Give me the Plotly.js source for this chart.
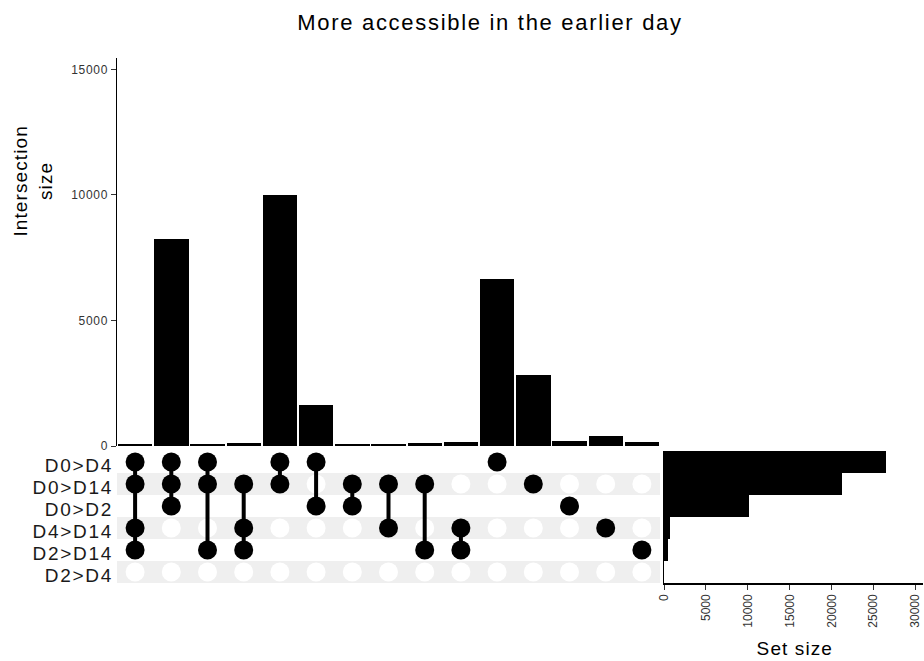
<!DOCTYPE html>
<html>
<head>
<meta charset="utf-8">
<script src="https://cdn.plot.ly/plotly-3.0.1.min.js"></script>
<style>
html,body{margin:0;padding:0;background:#fff;}
#chart{width:924px;height:661px;}
#chart .gtitle{letter-spacing:1.7px;}
#chart .ytick text,#chart .xtick text{letter-spacing:0.7px;}
#chart .y2tick text{letter-spacing:1.7px;}
#chart .annotation-text{letter-spacing:1.1px;}
</style>
</head>
<body>
<div id="chart"></div>
<script>
// ---- data ----
const setNames = ["D0>D4", "D0>D14", "D0>D2", "D4>D14", "D2>D14", "D2>D4"];
const setSizes = [26500, 21250, 10100, 690, 450, 10];
const intersectionSizes = [60, 8250, 80, 100, 10000, 1620, 80, 90, 110, 140, 6650, 2820, 200, 400, 150];
// membership of each intersection column (indices into setNames)
const memberships = [
  [0, 1, 3, 4],
  [0, 1, 2],
  [0, 1, 4],
  [1, 3, 4],
  [0, 1],
  [0, 2],
  [1, 2],
  [1, 3],
  [1, 4],
  [3, 4],
  [0],
  [1],
  [2],
  [3],
  [4]
];
const topTicks = [0, 5000, 10000, 15000];
const setTicks = [0, 5000, 10000, 15000, 20000, 25000, 30000];

// ---- geometry helpers (paper fractions) ----
const W = 924, H = 661;
const px = v => v / W;
const py = v => 1 - v / H;

const cols = intersectionSizes.map((_, i) => i);

const topBars = {
  type: 'bar', x: cols, y: intersectionSizes, xaxis: 'x', yaxis: 'y',
  marker: {color: '#000000'},
  width: 0.95, hoverinfo: 'y', showlegend: false
};

const emptyX = [], emptyY = [];
const fillX = [], fillY = [];
cols.forEach(c => {
  setNames.forEach((_, r) => {
    if (memberships[c].includes(r)) { fillX.push(c); fillY.push(r); }
    else { emptyX.push(c); emptyY.push(r); }
  });
});
const lineX = [], lineY = [];
cols.forEach(c => {
  const m = memberships[c];
  if (m.length > 1) {
    lineX.push(c, c, null);
    lineY.push(Math.min(...m), Math.max(...m), null);
  }
});

const emptyDots = {
  type: 'scatter', mode: 'markers', x: emptyX, y: emptyY, xaxis: 'x2', yaxis: 'y2',
  marker: {color: '#ffffff', size: 19}, hoverinfo: 'skip', showlegend: false, cliponaxis: false
};
const connectLines = {
  type: 'scatter', mode: 'lines', x: lineX, y: lineY, xaxis: 'x2', yaxis: 'y2',
  line: {color: '#000000', width: 4}, hoverinfo: 'skip', showlegend: false, connectgaps: false
};
const filledDots = {
  type: 'scatter', mode: 'markers', x: fillX, y: fillY, xaxis: 'x2', yaxis: 'y2',
  marker: {color: '#000000', size: 19}, hoverinfo: 'skip', showlegend: false, cliponaxis: false
};

const setBars = {
  type: 'bar', orientation: 'h', x: setSizes, y: setNames.map((_, i) => i),
  xaxis: 'x3', yaxis: 'y3', marker: {color: '#000000'}, width: 0.98,
  hoverinfo: 'x', showlegend: false
};

const shapes = [];
setNames.forEach((_, r) => {
  if (r % 2 === 1) {
    shapes.push({
      type: 'rect', xref: 'x2 domain', yref: 'y2', x0: 0, x1: 1, y0: r - 0.5, y1: r + 0.5,
      fillcolor: '#efefef', line: {width: 0}, layer: 'below'
    });
  }
});

const FAM = 'Liberation Sans, Arial, Helvetica, sans-serif';
const tickFont = {family: FAM, size: 12, color: '#333333'};
const titleFont = {family: FAM, size: 19, color: '#000000'};

const layout = {
  width: W, height: H,
  template: {},
  font: {family: FAM, color: '#000000'},
  margin: {l: 0, r: 0, t: 0, b: 0},
  paper_bgcolor: '#ffffff', plot_bgcolor: 'rgba(0,0,0,0)',
  showlegend: false,
  title: {
    text: 'More accessible in the earlier day',
    font: {family: FAM, size: 22, color: '#000000'},
    x: px(490), xanchor: 'center', xref: 'paper',
    y: py(22), yanchor: 'middle', yref: 'container'
  },
  bargap: 0,
  xaxis: {
    domain: [px(117), px(660)], range: [-0.5, 14.5], anchor: 'y',
    showticklabels: false, ticks: '', showgrid: false, zeroline: false, showline: false, fixedrange: true
  },
  yaxis: {
    domain: [py(446), py(58)], range: [0, 15450], anchor: 'x',
    tickvals: topTicks, ticktext: topTicks.map(String), tickfont: tickFont,
    ticks: 'outside', ticklen: 5, tickwidth: 1, tickcolor: '#333333',
    showline: true, linecolor: '#000000', linewidth: 1.5,
    showgrid: false, zeroline: false, fixedrange: true
  },
  xaxis2: {
    domain: [px(117), px(660)], range: [-0.5, 14.5], anchor: 'y2',
    showticklabels: false, ticks: '', showgrid: false, zeroline: false, showline: false, fixedrange: true
  },
  yaxis2: {
    domain: [py(583), py(451)], range: [5.5, -0.5], anchor: 'x2',
    tickvals: setNames.map((_, i) => i), ticktext: setNames,
    tickfont: {family: FAM, size: 19, color: '#1a1a1a'},
    ticks: '', ticklabelstandoff: 3, ticklabelshift: -3,
    showgrid: false, zeroline: false, showline: false, fixedrange: true
  },
  xaxis3: {
    domain: [px(664), px(923)], range: [0, 30900], anchor: 'y3',
    tickvals: setTicks, ticktext: setTicks.map(String), tickangle: -90, tickfont: tickFont,
    ticks: 'outside', ticklen: 5, tickwidth: 1, tickcolor: '#333333',
    showline: true, linecolor: '#000000', linewidth: 1.5,
    showgrid: false, zeroline: false, fixedrange: true
  },
  yaxis3: {
    domain: [py(583), py(451)], range: [5.5, -0.5], anchor: 'x3',
    showticklabels: false, ticks: '', showline: true, linecolor: '#000000', linewidth: 1.5,
    showgrid: false, zeroline: false, fixedrange: true
  },
  shapes: shapes,
  annotations: [
    {
      text: 'Intersection<br>size', textangle: -90, showarrow: false,
      xref: 'paper', yref: 'paper', x: px(33), y: py(181), xanchor: 'center', yanchor: 'middle',
      font: titleFont
    },
    {
      text: 'Set size', showarrow: false,
      xref: 'paper', yref: 'paper', x: px(795), y: py(648), xanchor: 'center', yanchor: 'middle',
      font: titleFont
    }
  ]
};

Plotly.newPlot('chart', [topBars, setBars, emptyDots, connectLines, filledDots], layout, {displayModeBar: false, staticPlot: true});
</script>
</body>
</html>
